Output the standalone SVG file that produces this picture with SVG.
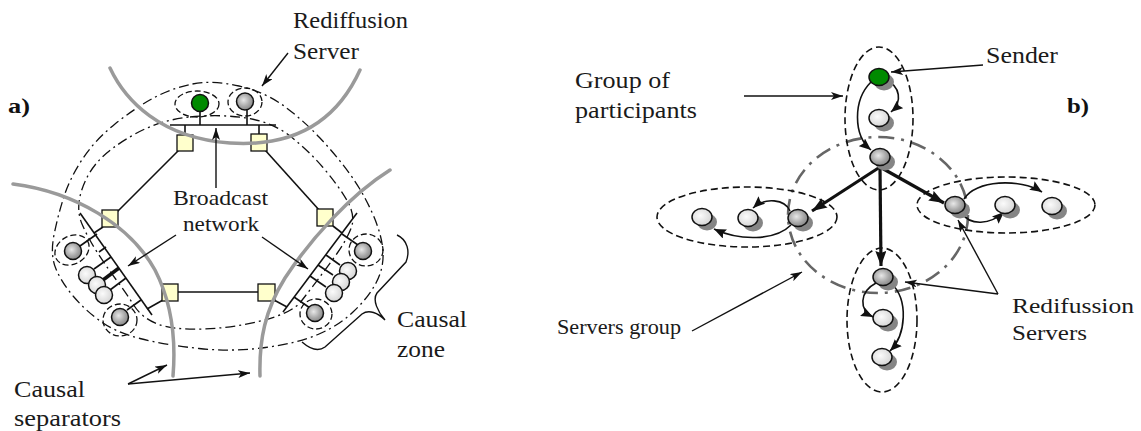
<svg xmlns="http://www.w3.org/2000/svg" width="1141" height="431" viewBox="0 0 1141 431">
  <style>
    .lbl { font-size: 23px; fill: #1a1a1a; }
    .sm { font-size: 22px; }
    .tag { font-size: 21px; font-weight: bold; fill: #111; }
    .sep { fill: none; stroke: #9a9a9a; stroke-width: 3.5; stroke-linecap: round; }
    .zone { fill: none; stroke: #111; stroke-width: 1.3; stroke-dasharray: 10 4 2 4; }
    .grp { fill: none; stroke: #111; stroke-width: 1.3; stroke-dasharray: 6 3; }
    .wire { fill: none; stroke: #111; stroke-width: 1.6; }
    .rtr { fill: #ffffcc; stroke: #111; stroke-width: 1.3; }
    .ndg { fill: url(#gGray); stroke: #111; stroke-width: 1.5; }
    .ndl { fill: url(#gLight); stroke: #111; stroke-width: 1.5; }
    .ndv { fill: #008a00; stroke: #111; stroke-width: 1.5; }
    .shd { fill: #858585; }
    .ptr { fill: none; stroke: #111; stroke-width: 1.4; marker-end: url(#ah); }
    .flow { fill: none; stroke: #111; stroke-width: 1.6; marker-end: url(#ahc); }
    .main { fill: none; stroke: #111; stroke-width: 3.2; marker-end: url(#ahb); }
    .egrp { fill: none; stroke: #111; stroke-width: 1.6; stroke-dasharray: 7 4; }
    .sgrp { fill: none; stroke: #666; stroke-width: 2.6; stroke-dasharray: 16 7 3 7; }
  </style>
  <defs>
    <radialGradient id="gGray" cx="0.42" cy="0.42" r="0.62">
      <stop offset="0" stop-color="#e8e8e8"/>
      <stop offset="0.6" stop-color="#a8a8a8"/>
      <stop offset="1" stop-color="#858585"/>
    </radialGradient>
    <radialGradient id="gLight" cx="0.42" cy="0.42" r="0.62">
      <stop offset="0" stop-color="#fbfbfb"/>
      <stop offset="1" stop-color="#d4d4d4"/>
    </radialGradient>
    <marker id="ah" viewBox="0 0 12 8" refX="12" refY="4" markerWidth="12" markerHeight="8" orient="auto" markerUnits="userSpaceOnUse">
      <path d="M0,0 L12,4 L0,8 L3,4 Z" fill="#111"/>
    </marker>
    <marker id="ahc" viewBox="0 0 12 10" refX="12" refY="5" markerWidth="12" markerHeight="10" orient="auto" markerUnits="userSpaceOnUse">
      <path d="M0,0 L12,5 L0,10 L2,5 Z" fill="#111"/>
    </marker>
    <marker id="ahb" viewBox="0 0 15 11" refX="15" refY="5.5" markerWidth="15" markerHeight="11" orient="auto" markerUnits="userSpaceOnUse">
      <path d="M0,0 L15,5.5 L0,11 L2,5.5 Z" fill="#111"/>
    </marker>
  </defs>

  <!-- ===== Panel a: hexagonal backbone with three broadcast segments ===== -->
  <g id="a-zones">
    <!-- outer and inner causal-zone boundaries -->
    <path class="zone" d="M192.5,84 Q213,80 239,86 Q265,92 284,106 Q303,120 319.5,137.5 Q336,155 349.5,173.5 Q363,192 372.5,213.5 Q382,235 383,251.5 Q384,268 376,283 Q368,298 353,312 Q338,326 318,334.5 Q298,343 265.5,347.5 Q233,352 199,348.5 Q165,345 140,338.5 Q115,332 100,321 Q85,310 73.5,296.5 Q62,283 56,269 Q50,255 54,235 Q58,215 64,196.5 Q70,178 82.5,159 Q95,140 115,124 Q135,108 153.5,98 Q172,88 192.5,84 Z"/>
    <path class="zone" d="M190,117 Q220,114 246,118 Q272,122 290,136 Q308,150 323,167.5 Q338,185 347,200.5 Q356,216 351,228.5 Q346,241 337,253.5 Q328,266 319,278 Q310,290 301,301.5 Q292,313 262.5,320.5 Q233,328 203,329 Q173,330 157.5,324 Q142,318 134,305.5 Q126,293 116,279.5 Q106,266 97,252 Q88,238 82,224 Q76,210 81,192.5 Q86,175 98,161.5 Q110,148 135,134 Q160,120 190,117 Z"/>
    <!-- local groups -->
    <ellipse class="grp" cx="197" cy="104" rx="22" ry="13"/>
    <ellipse class="grp" cx="245" cy="102" rx="17" ry="14"/>
    <ellipse class="grp" cx="72" cy="250" rx="18" ry="14" transform="rotate(-30 72 250)"/>
    <ellipse class="grp" cx="120" cy="320" rx="17" ry="16"/>
    <ellipse class="grp" cx="366" cy="250" rx="17" ry="16"/>
    <ellipse class="grp" cx="316" cy="314" rx="16" ry="15"/>
  </g>

  <g id="a-backbone">
    <!-- router-to-router links -->
    <line class="wire" x1="179" y1="150" x2="116" y2="213"/>
    <line class="wire" x1="265" y1="150" x2="320" y2="211"/>
    <line class="wire" x1="178" y1="292" x2="258" y2="292"/>
    <!-- top broadcast segment -->
    <line class="wire" x1="170" y1="125" x2="276" y2="125"/>
    <line class="wire" x1="185" y1="125" x2="185" y2="135"/>
    <line class="wire" x1="259" y1="125" x2="259" y2="140"/>
    <line class="wire" x1="200" y1="111" x2="200" y2="125"/>
    <line class="wire" x1="247" y1="110" x2="247" y2="125"/>
    <!-- left broadcast segment -->
    <line class="wire" x1="80" y1="213" x2="152" y2="315"/>
    <line class="wire" x1="103" y1="227" x2="94" y2="233"/>
    <line class="wire" x1="80" y1="246" x2="97" y2="234"/>
    <line class="wire" x1="94" y1="269" x2="111" y2="257"/>
    <line x1="103" y1="280" x2="119" y2="268" stroke="#111" stroke-width="3.5"/>
    <line class="wire" x1="110" y1="290" x2="126" y2="278"/>
    <line class="wire" x1="99" y1="252" x2="106" y2="247"/>
    <line class="wire" x1="127" y1="310" x2="141" y2="300"/>
    <line class="wire" x1="163" y1="300" x2="147" y2="309"/>
    <!-- right broadcast segment -->
    <line class="wire" x1="357" y1="213" x2="283" y2="312"/>
    <line class="wire" x1="333" y1="226" x2="342" y2="233"/>
    <line class="wire" x1="342" y1="234" x2="358" y2="245"/>
    <line class="wire" x1="326" y1="255" x2="340" y2="265"/>
    <line class="wire" x1="318" y1="265" x2="333" y2="275"/>
    <line class="wire" x1="310" y1="276" x2="326" y2="287"/>
    <line class="wire" x1="294" y1="297" x2="310" y2="308"/>
    <line class="wire" x1="274" y1="300" x2="287" y2="307"/>
  </g>

  <!-- routers -->
  <g id="a-routers">
    <rect class="rtr" x="177" y="135" width="16" height="16"/>
    <rect class="rtr" x="251" y="134" width="16" height="17"/>
    <rect class="rtr" x="102" y="210" width="16" height="17"/>
    <rect class="rtr" x="317" y="209" width="16" height="17"/>
    <rect class="rtr" x="162" y="284" width="16" height="17"/>
    <rect class="rtr" x="258" y="284" width="17" height="17"/>
  </g>

  <!-- hosts -->
  <g id="a-hosts">
    <circle class="ndv" cx="200" cy="103" r="8.5"/>
    <circle class="ndg" cx="245" cy="101.5" r="8.5"/>
    <circle class="ndg" cx="73" cy="251" r="8.5"/>
    <circle class="ndl" cx="87" cy="275" r="8.5"/>
    <circle class="ndl" cx="97" cy="285" r="8.5"/>
    <circle class="ndl" cx="104" cy="295" r="8.5"/>
    <circle class="ndg" cx="120" cy="317" r="8.5"/>
    <circle class="ndg" cx="363" cy="251" r="8.5"/>
    <circle class="ndl" cx="348" cy="271" r="8.5"/>
    <circle class="ndl" cx="341" cy="282" r="8.5"/>
    <circle class="ndl" cx="334" cy="293" r="8.5"/>
    <circle class="ndg" cx="315" cy="313" r="8.5"/>
  </g>

  <!-- causal separators -->
  <g id="a-separators">
    <path class="sep" d="M110,68 C125,100 160,138 230,143 C290,147 335,125 360,70"/>
    <path class="sep" d="M13,184 C75,192 130,225 155,270 C172,303 176,340 173,376"/>
    <path class="sep" d="M390,170 C350,195 310,240 285,278 C265,310 259,340 260,376"/>
  </g>

  <!-- causal zone brace -->
  <path id="a-brace" fill="none" stroke="#111" stroke-width="1.4" d="M397,235 C408,240 410,252 406,262 L377,293 C372,300 378,312 385,320 C378,313 369,309 362,314 L325,347 C318,352 310,349 302,342"/>

  <!-- label pointers, panel a -->
  <g id="a-connectors">
    <line class="ptr" x1="288" y1="53" x2="262" y2="86"/>
    <line class="ptr" x1="216" y1="188" x2="216" y2="128"/>
    <line class="ptr" x1="176" y1="235" x2="128" y2="266"/>
    <line class="ptr" x1="262" y1="237" x2="308" y2="269"/>
    <line class="ptr" x1="128" y1="384" x2="167" y2="365"/>
    <line class="ptr" x1="128" y1="384" x2="250" y2="373"/>
  </g>

  <g id="a-labels" font-family="Liberation Serif, serif">
    <text class="tag" x="8" y="113" textLength="22" lengthAdjust="spacingAndGlyphs">a)</text>
    <text class="lbl" x="293" y="28" textLength="115" lengthAdjust="spacingAndGlyphs">Rediffusion</text>
    <text class="lbl" x="293" y="59" textLength="66" lengthAdjust="spacingAndGlyphs">Server</text>
    <text class="lbl sm" x="173" y="205" textLength="95" lengthAdjust="spacingAndGlyphs">Broadcast</text>
    <text class="lbl sm" x="183" y="231" textLength="76" lengthAdjust="spacingAndGlyphs">network</text>
    <text class="lbl" x="14" y="397" textLength="71" lengthAdjust="spacingAndGlyphs">Causal</text>
    <text class="lbl" x="14" y="426" textLength="107" lengthAdjust="spacingAndGlyphs">separators</text>
    <text class="lbl" x="397" y="327" textLength="70" lengthAdjust="spacingAndGlyphs">Causal</text>
    <text class="lbl" x="397" y="357" textLength="48" lengthAdjust="spacingAndGlyphs">zone</text>
  </g>

  <!-- ===== Panel b: servers group and participant groups ===== -->
  <g id="b-groups">
    <ellipse class="sgrp" cx="878" cy="215" rx="90" ry="78"/>
    <ellipse class="egrp" cx="879" cy="118.5" rx="34" ry="71.5"/>
    <ellipse class="egrp" cx="747" cy="217" rx="90" ry="30"/>
    <ellipse class="egrp" cx="1006" cy="205" rx="89" ry="28"/>
    <ellipse class="egrp" cx="882" cy="320" rx="35" ry="72"/>
  </g>

  <g id="b-connectors">
    <line class="main" x1="880" y1="167" x2="812" y2="211"/>
    <line class="main" x1="880" y1="167" x2="944" y2="203"/>
    <line class="main" x1="880" y1="167" x2="881" y2="266"/>
    <path class="flow" d="M886,80 C900,86 903,102 891,112"/>
    <path class="flow" d="M871,82 C853,100 853,135 871,150"/>
    <path class="flow" d="M790,211 C785,199 765,197 753,208"/>
    <path class="flow" d="M791,225 C775,241 740,241 714,229"/>
    <path class="flow" d="M964,199 C975,180 1020,178 1042,192"/>
    <path class="flow" d="M962,213 C970,226 990,225 1004,212"/>
    <path class="flow" d="M876,283 C859,292 859,310 873,317"/>
    <path class="flow" d="M891,283 C909,300 906,335 890,351"/>
    <line class="ptr" x1="744" y1="96" x2="843" y2="96"/>
    <line class="ptr" x1="983" y1="65" x2="891" y2="72"/>
    <line class="ptr" x1="692" y1="331" x2="802" y2="272"/>
    <line class="ptr" x1="998" y1="294" x2="958" y2="220"/>
    <line class="ptr" x1="998" y1="294" x2="905" y2="282"/>
  </g>

  <g id="b-sender">
    <ellipse class="shd" cx="884" cy="82" rx="10" ry="8.5"/>
    <ellipse class="ndv" cx="879" cy="77" rx="10" ry="8.5"/>
  </g>
  <g id="b-p1">
    <ellipse class="shd" cx="884" cy="123" rx="10" ry="8.5"/>
    <ellipse class="ndl" cx="879" cy="118" rx="10" ry="8.5"/>
  </g>
  <g id="b-s1">
    <ellipse class="shd" cx="885" cy="162" rx="10" ry="8.5"/>
    <ellipse class="ndg" cx="880" cy="157" rx="10" ry="8.5"/>
  </g>
  <g id="b-s2">
    <ellipse class="shd" cx="803" cy="223" rx="10" ry="8.5"/>
    <ellipse class="ndg" cx="798" cy="218" rx="10" ry="8.5"/>
  </g>
  <g id="b-p2">
    <ellipse class="shd" cx="753" cy="223" rx="10" ry="8.5"/>
    <ellipse class="ndl" cx="748" cy="218" rx="10" ry="8.5"/>
  </g>
  <g id="b-p3">
    <ellipse class="shd" cx="707" cy="222" rx="10" ry="8.5"/>
    <ellipse class="ndl" cx="702" cy="217" rx="10" ry="8.5"/>
  </g>
  <g id="b-s3">
    <ellipse class="shd" cx="960" cy="210" rx="10" ry="8.5"/>
    <ellipse class="ndg" cx="955" cy="205" rx="10" ry="8.5"/>
  </g>
  <g id="b-p4">
    <ellipse class="shd" cx="1010" cy="210" rx="10" ry="8.5"/>
    <ellipse class="ndl" cx="1005" cy="205" rx="10" ry="8.5"/>
  </g>
  <g id="b-p5">
    <ellipse class="shd" cx="1057" cy="211" rx="10" ry="8.5"/>
    <ellipse class="ndl" cx="1052" cy="206" rx="10" ry="8.5"/>
  </g>
  <g id="b-s4">
    <ellipse class="shd" cx="888" cy="282" rx="10" ry="8.5"/>
    <ellipse class="ndg" cx="883" cy="277" rx="10" ry="8.5"/>
  </g>
  <g id="b-p6">
    <ellipse class="shd" cx="888" cy="323" rx="10" ry="8.5"/>
    <ellipse class="ndl" cx="883" cy="318" rx="10" ry="8.5"/>
  </g>
  <g id="b-p7">
    <ellipse class="shd" cx="887" cy="362" rx="10" ry="8.5"/>
    <ellipse class="ndl" cx="882" cy="357" rx="10" ry="8.5"/>
  </g>

  <g id="b-labels" font-family="Liberation Serif, serif">
    <text class="tag" x="1067" y="113" textLength="22" lengthAdjust="spacingAndGlyphs">b)</text>
    <text class="lbl" x="575" y="88" textLength="95" lengthAdjust="spacingAndGlyphs">Group of</text>
    <text class="lbl" x="575" y="118" textLength="122" lengthAdjust="spacingAndGlyphs">participants</text>
    <text class="lbl" x="986" y="63" textLength="72" lengthAdjust="spacingAndGlyphs">Sender</text>
    <text class="lbl sm" x="1012" y="313" textLength="122" lengthAdjust="spacingAndGlyphs">Redifussion</text>
    <text class="lbl sm" x="1012" y="340" textLength="75" lengthAdjust="spacingAndGlyphs">Servers</text>
    <text class="lbl sm" x="557" y="334" textLength="124" lengthAdjust="spacingAndGlyphs">Servers group</text>
  </g>
</svg>
